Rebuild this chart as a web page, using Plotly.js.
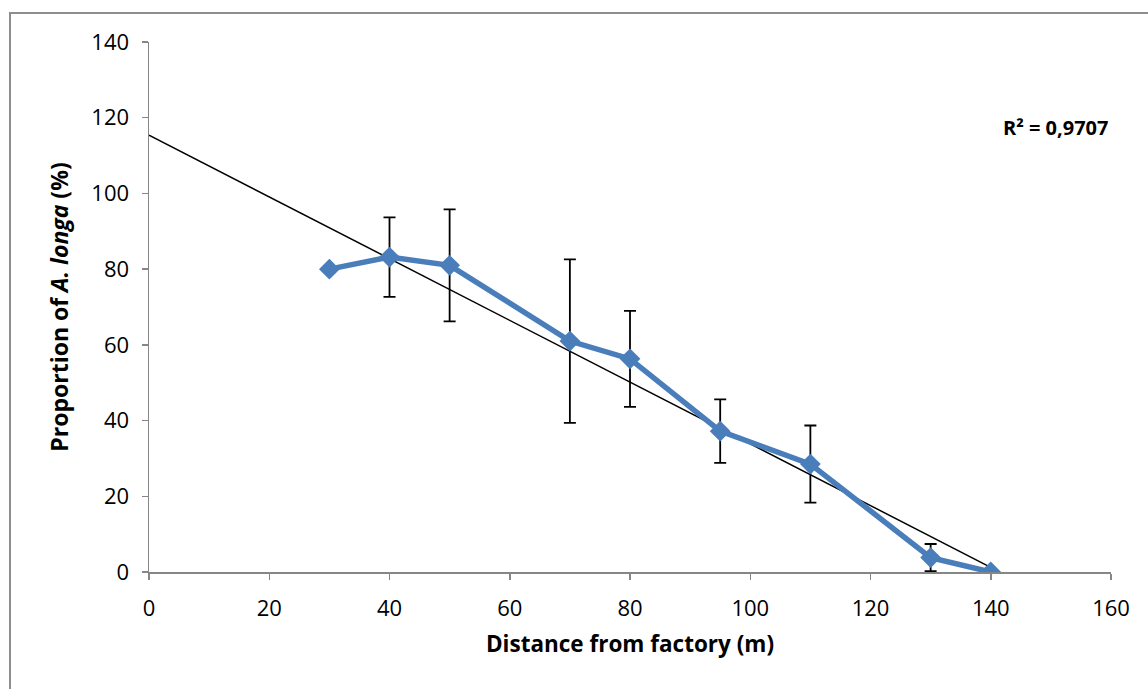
<!DOCTYPE html>
<html>
<head>
<meta charset="utf-8">
<script src="https://cdn.plot.ly/plotly-3.0.1.min.js"></script>
<style>
html,body{margin:0;padding:0;background:#fff;overflow:hidden;}
#frame{position:absolute;left:9px;top:12px;width:1300px;height:800px;border-left:2px solid #8e8e8e;border-top:2px solid #8e8e8e;}
#chart{position:absolute;left:0;top:0;width:1148px;height:689px;}
</style>
</head>
<body>
<div id="frame"></div>
<div id="chart"></div>
<script>
// Data
const distance = [30, 40, 50, 70, 80, 95, 110, 130, 140];
const proportion = [80, 83.2, 81, 61, 56.3, 37.2, 28.5, 3.8, 0];
const errorBars = [0, 10.5, 14.8, 21.6, 12.7, 8.4, 10.2, 3.6, 0];
const trendX = [0, 140.4];
const trendY = [115.4, 0.9];
const xTicks = [0, 20, 40, 60, 80, 100, 120, 140, 160];
const yTicks = [0, 20, 40, 60, 80, 100, 120, 140];
const r2Label = 'R² = 0,9707';

const font = '"Open Sans", "Noto Sans", "Liberation Sans", sans-serif';

const traces = [
  {
    x: trendX, y: trendY, type: 'scatter', mode: 'lines',
    line: {color: '#000000', width: 1.5}, hoverinfo: 'skip', showlegend: false
  },
  {
    x: distance, y: proportion, type: 'scatter', mode: 'lines+markers',
    line: {color: '#4a7ebb', width: 5.5},
    marker: {symbol: 'diamond', size: 16, color: '#4a7ebb'},
    error_y: {type: 'data', array: errorBars, visible: true, color: '#000000', thickness: 1.8, width: 6},
    showlegend: false
  }
];

const layout = {
  width: 1148, height: 689,
  paper_bgcolor: 'rgba(0,0,0,0)', plot_bgcolor: 'rgba(0,0,0,0)',
  margin: {l: 149, r: 37, t: 42, b: 117},
  showlegend: false,
  font: {family: font, color: '#000', size: 22},
  xaxis: {
    range: [0, 160], tickvals: xTicks, ticktext: xTicks.map(String),
    showgrid: false, zeroline: false, showline: true, linecolor: '#868686', linewidth: 1.5,
    ticks: 'outside', ticklen: 6, tickcolor: '#868686', tickwidth: 1.5,
    ticklabelstandoff: 10,
    tickfont: {family: font, size: 22, color: '#000'},
    title: {text: '<b>Distance from factory (m)</b>', font: {family: font, size: 22.5, color: '#000'}, standoff: 15}
  },
  yaxis: {
    range: [0, 140], tickvals: yTicks, ticktext: yTicks.map(String),
    showgrid: false, zeroline: false, showline: true, linecolor: '#868686', linewidth: 1.5,
    ticks: 'outside', ticklen: 6, tickcolor: '#868686', tickwidth: 1.5,
    ticklabelstandoff: 8,
    tickfont: {family: font, size: 22, color: '#000'},
    title: {text: '<b>Proportion of <i>A. longa</i> (%)</b>', font: {family: font, size: 23, color: '#000'}, standoff: 16}
  },
  annotations: [{
    xref: 'paper', yref: 'paper', x: 1.0, y: 0.839, xanchor: 'right', yanchor: 'middle',
    text: '<b>' + r2Label + '</b>', showarrow: false,
    font: {family: font, size: 20, color: '#000'}
  }]
};

Plotly.newPlot('chart', traces, layout, {displayModeBar: false, staticPlot: true});
</script>
</body>
</html>
